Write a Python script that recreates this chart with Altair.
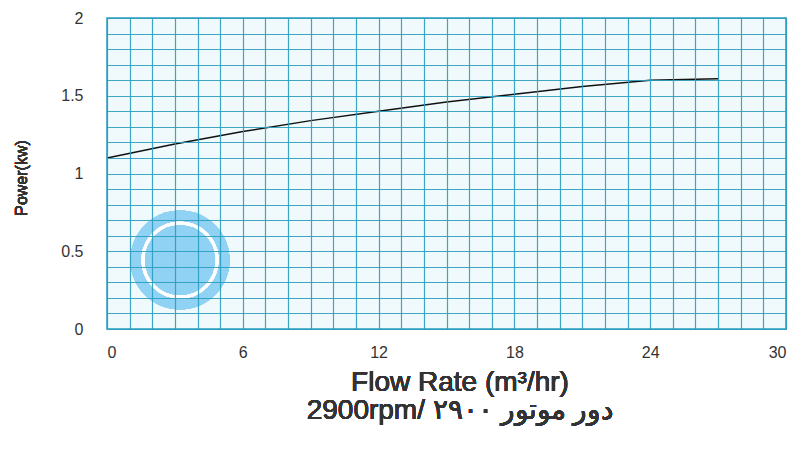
import altair as alt
import pandas as pd

# Data
flow = [0, 3, 6, 9, 12, 15, 18, 21, 24, 27]
power = [1.10, 1.19, 1.27, 1.34, 1.40, 1.46, 1.51, 1.56, 1.60, 1.61]

x_grid = list(range(0, 31))
y_grid = [round(i * 0.1, 1) for i in range(21)]
x_labels = [0, 6, 12, 18, 24, 30]
y_labels = [0, 0.5, 1, 1.5, 2]

x_title = "Flow Rate (m³/hr)"
sub_title = "2900rpm/ دور موتور ۲۹۰۰"
y_title = "Power(kw)"

df = pd.DataFrame({"flow": flow, "power": power})

FONT = "Liberation Sans"
GRID = "#2a9cbd"

x_enc = alt.X(
    "flow:Q",
    scale=alt.Scale(domain=[0, 30], nice=False, zero=False),
    axis=alt.Axis(
        values=x_grid,
        labelExpr="datum.value % 6 == 0 ? format(datum.value, 'd') : ''",
        grid=True, gridColor=GRID, gridWidth=1.2, gridOpacity=0.9,
        ticks=False, domain=False, labelPadding=15, labelFontSize=16,
        labelColor="#333333", labelFont=FONT, title=None, zindex=1,
    ),
)
y_enc = alt.Y(
    "power:Q",
    scale=alt.Scale(domain=[0, 2], nice=False),
    axis=alt.Axis(
        values=y_grid,
        labelExpr="abs(datum.value * 2 - round(datum.value * 2)) < 0.001 ? format(datum.value, '~g') : ''",
        grid=True, gridColor=GRID, gridWidth=1.2, gridOpacity=0.9,
        ticks=False, domain=False, labelPadding=24, labelFontSize=16,
        labelColor="#333333", labelFont=FONT, title=None, zindex=1,
    ),
)

line = alt.Chart(df).mark_line(color="#111111", strokeWidth=1.5).encode(x=x_enc, y=y_enc)

logo = alt.Chart(df).mark_point(
    shape="circle", filled=True, color="#8fd2f3", opacity=0.6, size=9850
).encode(x=alt.value(73), y=alt.value(242))

ring = alt.Chart(df).mark_point(
    shape="circle", filled=False, color="white", strokeWidth=3, opacity=0.8, size=5500
).encode(x=alt.value(73), y=alt.value(242))

t1 = alt.Chart(df).mark_text(
    text=x_title, fontSize=28, font=FONT, fontWeight="normal", color="#333333",
    align="center", baseline="middle"
).encode(x=alt.value(353), y=alt.value(365))

t2 = alt.Chart(df).mark_text(
    text=sub_title, fontSize=28, font=FONT, fontWeight="normal", color="#333333",
    align="center", baseline="middle"
).encode(x=alt.value(353), y=alt.value(393))

t3 = alt.Chart(df).mark_text(
    text=y_title, fontSize=16, font=FONT, fontWeight="normal", color="#333333",
    align="center", baseline="middle", angle=270
).encode(x=alt.value(-85), y=alt.value(160))

chart = alt.layer(logo, ring, line, t1, t2, t3).properties(
    width=679, height=311,
    autosize=alt.AutoSizeParams(type="none"),
    padding={"left": 99, "top": 10, "right": 11, "bottom": 113},
).configure_view(
    fill="#f0fafd", stroke=GRID, strokeWidth=1.5
)

chart.save("out.html", embed_options={"renderer": "svg", "actions": False})
